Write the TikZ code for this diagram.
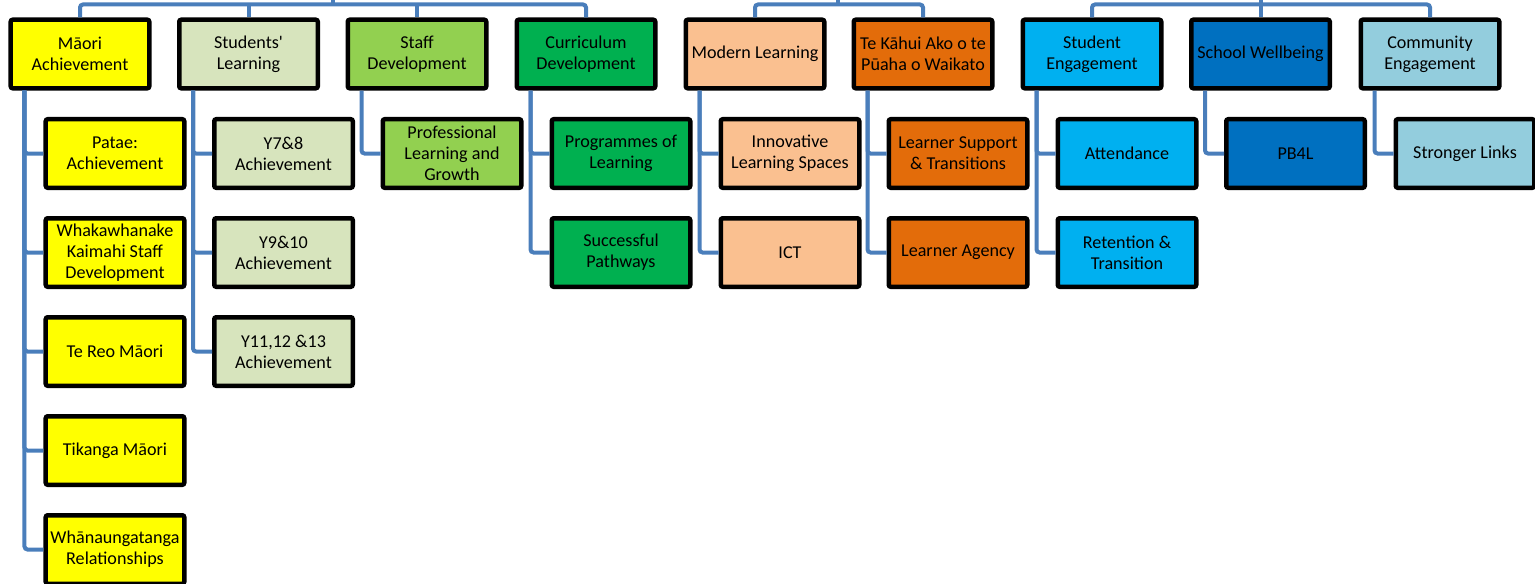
\documentclass[tikz,border=0pt]{standalone}
\usepackage{fontspec}
\setmainfont{Carlito}
\definecolor{linkblue}{RGB}{74,126,187}
\definecolor{maori}{RGB}{255,255,0}
\definecolor{students}{RGB}{215,228,189}
\definecolor{staff}{RGB}{146,208,80}
\definecolor{curric}{RGB}{0,176,80}
\definecolor{modern}{RGB}{250,192,144}
\definecolor{kahui}{RGB}{227,108,10}
\definecolor{engage}{RGB}{0,176,240}
\definecolor{wellbeing}{RGB}{0,112,192}
\definecolor{community}{RGB}{147,205,221}
\tikzset{box/.style={draw=black, line width=0.9mm, rounded corners=0.4mm, minimum width=27.7mm, minimum height=13.7mm, inner sep=0pt, align=center, font=\fontsize{10.3}{12}\selectfont}}
\tikzset{link/.style={draw=linkblue, line width=0.8mm, rounded corners=0.6mm}}

\begin{document}
\begin{tikzpicture}[x=0.2mm, y=-0.2mm]
    \useasboundingbox (0,0) rectangle (1535,584);
    % top row
    \node [box, fill=maori] (MA) at (80,54) {Māori\\Achievement};
    \node [box, fill=students] (SL) at (248.5,54) {Students\textquotesingle\\Learning};
    \node [box, fill=staff] (SD) at (417,54) {Staff\\Development};
    \node [box, fill=curric] (CD) at (586,54) {Curriculum\\Development};
    \node [box, fill=modern] (ML) at (755,54) {Modern Learning};
    \node [box, fill=kahui] (TK) at (923,54) {Te Kāhui Ako o te\\Pūaha o Waikato};
    \node [box, fill=engage] (SE) at (1092,54) {Student\\Engagement};
    \node [box, fill=wellbeing] (SW) at (1260.5,54) {School Wellbeing};
    \node [box, fill=community] (CE) at (1430,54) {Community\\Engagement};
    % second level
    \node [box, fill=maori] (MA1) at (115,153.5) {Patae:\\Achievement};
    \node [box, fill=maori] (MA2) at (115,252.5) {Whakawhanake\\Kaimahi Staff\\Development};
    \node [box, fill=maori] (MA3) at (115,351.5) {Te Reo Māori};
    \node [box, fill=maori] (MA4) at (115,450.5) {Tikanga Māori};
    \node [box, fill=maori] (MA5) at (115,549.5) {Whānaungatanga\\Relationships};
    \node [box, fill=students] (SL1) at (283.5,153.5) {Y7\&8\\Achievement};
    \node [box, fill=students] (SL2) at (283.5,252.5) {Y9\&10\\Achievement};
    \node [box, fill=students] (SL3) at (283.5,351.5) {Y11,12 \&13\\Achievement};
    \node [box, fill=staff] (SD1) at (452,153.5) {Professional\\Learning and\\Growth};
    \node [box, fill=curric] (CD1) at (621,153.5) {Programmes of\\Learning};
    \node [box, fill=curric] (CD2) at (621,252.5) {Successful\\Pathways};
    \node [box, fill=modern] (ML1) at (790,153.5) {Innovative\\Learning Spaces};
    \node [box, fill=modern] (ML2) at (790,252.5) {ICT};
    \node [box, fill=kahui] (TK1) at (958,153.5) {Learner Support\\\& Transitions};
    \node [box, fill=kahui] (TK2) at (958,252.5) {Learner Agency};
    \node [box, fill=engage] (SE1) at (1127,153.5) {Attendance};
    \node [box, fill=engage] (SE2) at (1127,252.5) {Retention \&\\Transition};
    \node [box, fill=wellbeing] (SW1) at (1295.5,153.5) {PB4L};
    \node [box, fill=community] (CE1) at (1465,153.5) {Stronger Links};
    % bus lines at the top
    \coordinate (G1) at (333,0);
    \coordinate (B1) at (333,4.5);
    \coordinate (G2) at (838,0);
    \coordinate (B2) at (838,4.5);
    \coordinate (G3) at (1261,0);
    \coordinate (B3) at (1261,4.5);
    \draw [link] (G1) -- (B1);
    \draw [link] (MA.north) |- (B1) -| (CD.north);
    \draw [link] (SL.north) -- (SL.north |- B1);
    \draw [link] (SD.north) -- (SD.north |- B1);
    \draw [link] (G2) -- (B2);
    \draw [link] (ML.north) |- (B2) -| (TK.north);
    \draw [link] (SE.north) |- (B3) -| (CE.north);
    \draw [link] (SW.north) -- (SW.north |- G3);
    % links down to the second level
    \draw [link] ([xshift=3.2mm]MA.south west) |- (MA1.west);
    \draw [link] ([xshift=3.2mm]MA.south west) |- (MA2.west);
    \draw [link] ([xshift=3.2mm]MA.south west) |- (MA3.west);
    \draw [link] ([xshift=3.2mm]MA.south west) |- (MA4.west);
    \draw [link] ([xshift=3.2mm]MA.south west) |- (MA5.west);
    \draw [link] ([xshift=3.2mm]SL.south west) |- (SL1.west);
    \draw [link] ([xshift=3.2mm]SL.south west) |- (SL2.west);
    \draw [link] ([xshift=3.2mm]SL.south west) |- (SL3.west);
    \draw [link] ([xshift=3.2mm]SD.south west) |- (SD1.west);
    \draw [link] ([xshift=3.2mm]CD.south west) |- (CD1.west);
    \draw [link] ([xshift=3.2mm]CD.south west) |- (CD2.west);
    \draw [link] ([xshift=3.2mm]ML.south west) |- (ML1.west);
    \draw [link] ([xshift=3.2mm]ML.south west) |- (ML2.west);
    \draw [link] ([xshift=3.2mm]TK.south west) |- (TK1.west);
    \draw [link] ([xshift=3.2mm]TK.south west) |- (TK2.west);
    \draw [link] ([xshift=3.2mm]SE.south west) |- (SE1.west);
    \draw [link] ([xshift=3.2mm]SE.south west) |- (SE2.west);
    \draw [link] ([xshift=3.2mm]SW.south west) |- (SW1.west);
    \draw [link] ([xshift=3.2mm]CE.south west) |- (CE1.west);
\end{tikzpicture}
\end{document}
